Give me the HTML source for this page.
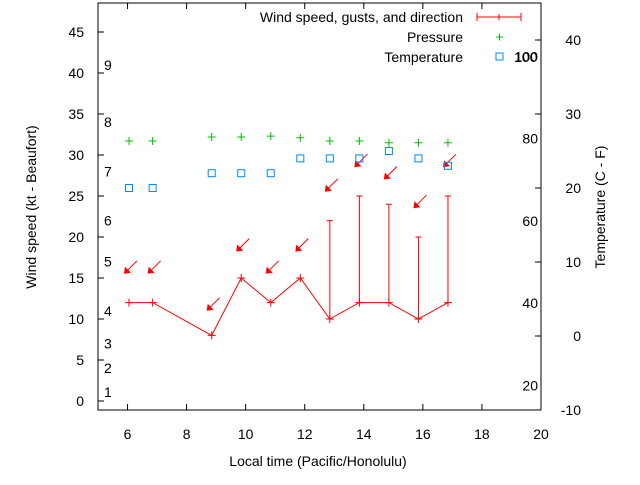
<!DOCTYPE html>
<html><head><meta charset="utf-8"><style>
html,body{margin:0;padding:0;background:#fff}
svg text{font-family:"Liberation Sans",sans-serif;font-size:14px;fill:#000}
</style></head><body>
<svg id="chart" width="640" height="480" viewBox="0 0 640 480" xmlns="http://www.w3.org/2000/svg">
<g id="axes"></g>
<g id="marks"></g>
<g>
<text x="463" y="22" text-anchor="end">Wind speed, gusts, and direction</text>
<line x1="477" y1="17" x2="521" y2="17" stroke="#f00"/>
<line x1="477" y1="13" x2="477" y2="21" stroke="#f00"/>
<line x1="521" y1="13" x2="521" y2="21" stroke="#f00"/>
<line x1="499" y1="14" x2="499" y2="20" stroke="#f00"/>
<text x="463" y="42" text-anchor="end">Pressure</text>
<path d="M496 37h7M499.5 33.5v7" stroke="#0b0"/>
<text x="463" y="62" text-anchor="end">Temperature</text>
<rect x="496" y="53" width="7" height="7" fill="none" stroke="#08f"/>
<text x="514" y="62">100</text>
</g>
</svg>
<script>
const times=[6.05,6.85,8.85,9.85,10.85,11.85,12.85,13.85,14.85,15.85,16.85];
const speeds=[12,12,8,15,12,15,10,12,12,10,12];
const gusts=[null,null,null,null,null,null,22,25,24,20,25];
const arrowKt=[16,16,11.5,18.7,16,18.7,26,29,27.5,24,29];
const pressure=[1015.7,1015.7,1016.2,1016.2,1016.3,1016.1,1015.7,1015.7,1015.5,1015.5,1015.5];
const tempC=[20,20,22,22,22,24,24,24,25,24,23];
const xTicks=[6,8,10,12,14,16,18,20];
const yTicks=[0,5,10,15,20,25,30,35,40,45];
const cTicks=[-10,0,10,20,30,40];
const fTicks=[20,40,60,80,100];
const beaufortLabels=[[1,1.1],[2,4],[3,7],[4,11],[5,17],[6,22],[7,28],[8,34],[9,41]];

const L=98,R=541,T=3,B=410;
const xs=t=>L+(t-5)*(R-L)/15;
const ys=k=>401-k*8.2;
const yc=c=>336-c*7.4;
const yf=f=>yc((f-32)*5/9);
const yp=p=>ys(p-984);
const NS="http://www.w3.org/2000/svg";
function mk(parent,tag,attrs){const e=document.createElementNS(NS,tag);for(const k in attrs)e.setAttribute(k,attrs[k]);parent.appendChild(e);return e;}
const ax=document.getElementById('axes'),mg=document.getElementById('marks');
let f=mk(ax,'rect',{x:L,y:T,width:R-L,height:B-T,fill:'none',stroke:'#000'});


xTicks.forEach(v=>{const x=xs(v);
 let l=mk(ax,'path',{d:`M${x} ${B}v-6M${x} ${T}v6`,stroke:'#000'});
 
 
 let t=mk(ax,'text',{x:x,y:439,'text-anchor':'middle'});t.textContent=v;
 
 });
yTicks.forEach(v=>{const y=ys(v);
 let l=mk(ax,'path',{d:`M${L} ${y}h6`,stroke:'#000'});
 
 
 let t=mk(ax,'text',{x:L-14,y:y+5,'text-anchor':'end'});t.textContent=v;
 
 });
cTicks.forEach(v=>{const y=yc(v);
 let l=mk(ax,'path',{d:`M${R} ${y}h-6`,stroke:'#000'});
 
 
 let t=mk(ax,'text',{x:R+40,y:y+5,'text-anchor':'end'});t.textContent=v;
 
 });
fTicks.forEach(v=>{let t=mk(ax,'text',{x:R-3,y:yf(v)+5,'text-anchor':'end'});t.textContent=v;
 
 });
beaufortLabels.forEach(b=>{let t=mk(ax,'text',{x:104,y:ys(b[1])+5});t.textContent=b[0];
 
 });
let xt=mk(ax,'text',{x:318,y:466,'text-anchor':'middle'});xt.textContent='Local time (Pacific/Honolulu)';


let yt=mk(ax,'text',{x:36,y:207,'text-anchor':'middle',transform:'rotate(-90 36 207)'});yt.textContent='Wind speed (kt - Beaufort)';


let y2=mk(ax,'text',{x:605,y:207,'text-anchor':'middle',transform:'rotate(-90 605 207)'});y2.textContent='Temperature (C - F)';



let pl=mk(mg,'polyline',{points:times.map((t,i)=>xs(t)+','+ys(speeds[i])).join(' '),fill:'none',stroke:'#f00'});


times.forEach((t,i)=>{const x=xs(t),y=ys(speeds[i]);
 let p=mk(mg,'path',{d:`M${x-4} ${y}h8M${x} ${y-4}v8`,stroke:'#f00'});
 
 
 if(gusts[i]!=null){const g=ys(gusts[i]);
  let e=mk(mg,'path',{d:`M${x} ${y}V${g}M${x-3} ${g}h6`,stroke:'#f00'});
  
  }
 const ay=ys(arrowKt[i]),axp=x;
 let a=mk(mg,'path',{d:`M${axp+8} ${ay-9}L${axp-3} ${ay+2}`,stroke:'#f00'});
 
 
 let h=mk(mg,'path',{d:`M${axp-5} ${ay+4}L${axp-4} ${ay-3}L${axp+2} ${ay+3}Z`,fill:'#f00'});
 
 
 const py=yp(pressure[i]);
 let pp=mk(mg,'path',{d:`M${x-4} ${py}h8M${x} ${py-4}v8`,stroke:'#0b0'});
 
 
 const ty=yc(tempC[i]);
 let r=mk(mg,'rect',{x:x-3.5,y:ty-3.5,width:7,height:7,fill:'none',stroke:'#08f'});
 
 
});
</script>
</body></html>
